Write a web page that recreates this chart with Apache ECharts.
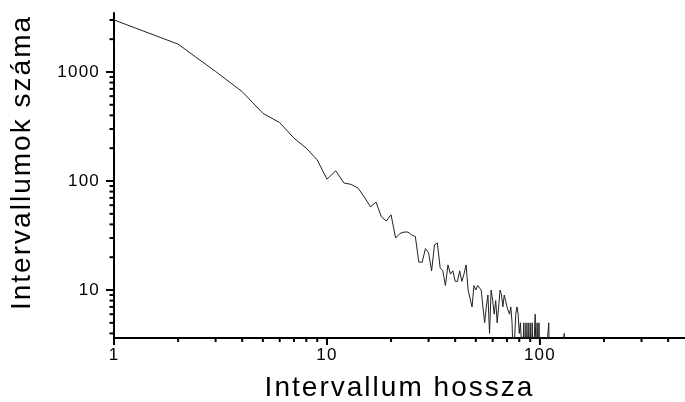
<!DOCTYPE html>
<html>
<head>
<meta charset="utf-8">
<script src="https://cdn.jsdelivr.net/npm/echarts@6/dist/echarts.min.js"></script>
<style>
  html, body { margin: 0; padding: 0; background: #fff; }
  #chart { width: 685px; height: 402px; }
</style>
</head>
<body>
<div id="chart"></div>
<script>
// Interval length (x) and number of intervals (y)
const lengths = [
  1, 2, 3, 4, 5, 6, 7, 8, 9, 10,
  11, 12, 13, 14, 15, 16, 17, 18, 19, 20,
  21, 22, 23, 24, 25, 26, 27, 28, 29, 30,
  31, 32, 33, 34, 35, 36, 37, 38, 39, 40,
  41, 42, 43, 44, 45, 46, 47, 48, 49, 50,
  51, 52, 53, 54, 55, 56, 57, 58, 59, 60,
  61, 62, 63, 64, 65, 66, 67, 68, 69, 70,
  71, 72, 73, 74, 75, 76, 77, 78, 79, 80,
  81, 82, 83, 84, 85, 86, 87, 88, 89, 90,
  91, 92, 93, 94, 95, 96, 97, 98, 99, 100,
  101, 102, 103, 104, 105, 106, 107, 108, 109, 110,
  111, 112, 113, 114, 115, 116, 117, 118, 119, 120,
  121, 122, 123, 124, 125, 126, 127, 128, 129, 130, 131
];
const counts = [
  3000, 1800, 1010, 660, 418, 343, 247, 200, 156, 104,
  124, 96, 93, 86, 71, 58, 64, 47, 43, 49,
  30, 33, 34, 34, 32, 31, 18, 18, 24, 22,
  15, 26, 27, 16, 15, 11, 17, 14, 15, 12,
  12, 15, 12, 14, 17, 10, 10, 7, 11, 10,
  11, 11, 10, 7, 5, 7, 9, 4, 10, 8,
  6, 8, 5, 7, 10, 9, 7, 9, 8, 7,
  7, 6, 7, 5, 2, 2, 6, 7, 6, 4,
  5, 5, 2, 5, 2, 5, 2, 5, 2, 5,
  2, 5, 2, 2, 6, 2, 5, 2, 5, 2,
  2, 2, 2, 2, 2, 2, 2, 2, 4, 5,
  2, 2, 2, 2, 2, 2, 2, 2, 2, 2,
  2, 2, 2, 2, 2, 2, 2, 2, 2, 4, 2
];
const xMajorTicks = [1, 10, 100];
const xMinorTicks = [2, 3, 4, 5, 6, 7, 8, 9, 20, 30, 40, 50, 60, 70, 80, 90, 200, 300, 400];
const yMajorTicks = [10, 100, 1000];
const yMinorTicks = [4, 5, 6, 7, 8, 9, 20, 30, 40, 50, 60, 70, 80, 90, 200, 300, 400, 500, 600, 700, 800, 900, 2000, 3000];
const xTitle = 'Intervallum hossza';
const yTitle = 'Intervallumok száma';

const X_MIN = 1, X_MAX = 480, Y_MIN = 3.63, Y_MAX = 3475;
const FONT = '"Liberation Sans", Arial, sans-serif';
const fmt = v => String(Math.round(v));

// slightly wider letter spacing, as in the original figure's text
(function () {
  const proto = CanvasRenderingContext2D.prototype;
  const desc = Object.getOwnPropertyDescriptor(proto, 'font');
  if (!desc || !('letterSpacing' in proto)) return;
  Object.defineProperty(proto, 'font', {
    configurable: true,
    get() { return desc.get.call(this); },
    set(v) {
      desc.set.call(this, v);
      const m = /(\d+(?:\.\d+)?)px/.exec(v);
      this.letterSpacing = m ? (parseFloat(m[1]) * 0.072).toFixed(2) + 'px' : '0px';
    }
  });
})();

function tickSeries(values, isX, len) {
  return {
    type: 'custom',
    xAxisIndex: 0, yAxisIndex: 0,
    clip: false, silent: true, z: 5,
    data: values.map(v => isX ? [v, Y_MIN] : [X_MIN, v]),
    renderItem: function (params, api) {
      const p = api.coord([api.value(0), api.value(1)]);
      const shape = isX
        ? { x1: p[0], y1: p[1], x2: p[0], y2: p[1] + len }
        : { x1: p[0] - len, y1: p[1], x2: p[0], y2: p[1] };
      return { type: 'line', shape: shape, style: { stroke: '#000', lineWidth: 2 } };
    }
  };
}

const chart = echarts.init(document.getElementById('chart'), null, { renderer: 'canvas' });
chart.setOption({
  animation: false,
  backgroundColor: '#fff',
  grid: { left: 114, right: 0, top: 13, bottom: 64, containLabel: false, outerBoundsMode: 'none' },
  xAxis: {
    type: 'log', logBase: 10, min: X_MIN, max: X_MAX, position: 'bottom',
    axisLine: { show: true, lineStyle: { color: '#000', width: 2 } },
    axisTick: { show: false },
    axisLabel: { show: true, customValues: xMajorTicks, formatter: fmt, color: '#000', fontSize: 17, fontFamily: FONT, margin: 8 },
    splitLine: { show: false }, minorTick: { show: false },
    name: xTitle, nameLocation: 'middle', nameGap: 35,
    nameTextStyle: { color: '#000', fontSize: 28, fontFamily: FONT }
  },
  yAxis: {
    type: 'log', logBase: 10, min: Y_MIN, max: Y_MAX, position: 'left',
    axisLine: { show: true, lineStyle: { color: '#000', width: 2 } },
    axisTick: { show: false },
    axisLabel: { show: true, customValues: yMajorTicks, formatter: fmt, color: '#000', fontSize: 17, fontFamily: FONT, margin: 14 },
    splitLine: { show: false }, minorTick: { show: false },
    name: yTitle, nameLocation: 'middle', nameGap: 77, nameRotate: 90,
    nameTextStyle: { color: '#000', fontSize: 28, fontFamily: FONT, padding: [0, 0, 0, 26] }
  },
  series: [
    {
      type: 'line',
      xAxisIndex: 0, yAxisIndex: 0,
      data: lengths.map((x, i) => [x, counts[i]]),
      showSymbol: false, symbol: 'none',
      lineStyle: { color: '#222', width: 1 },
      clip: true
    },
    tickSeries(xMinorTicks, true, 4),
    tickSeries(yMinorTicks, false, 4.5),
    tickSeries(xMajorTicks, true, 7),
    tickSeries(yMajorTicks, false, 8)
  ]
});
</script>
</body>
</html>
